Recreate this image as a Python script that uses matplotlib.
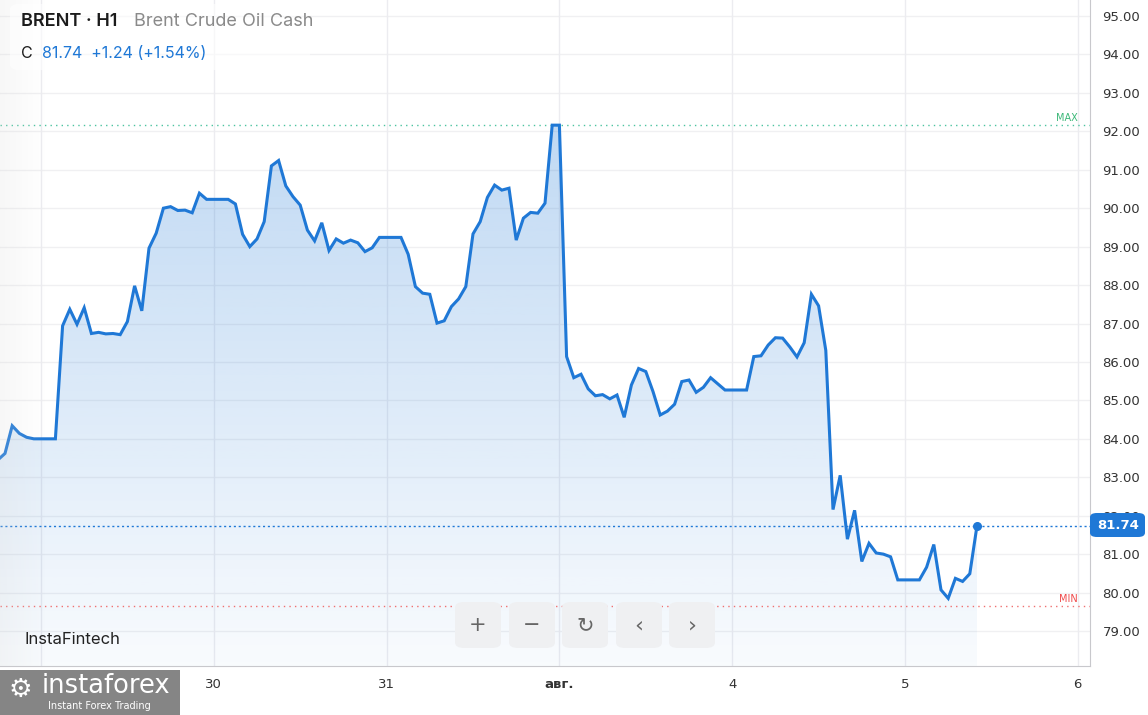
import numpy as np
import matplotlib.pyplot as plt
from matplotlib.patches import FancyBboxPatch, Rectangle

# hourly closes, first value is 6 hours before the "29" day boundary
start_hour = -6
closes = [
    83.45, 83.62, 84.34, 84.14, 84.04, 84.00,
    84.00, 84.00, 84.00, 86.94, 87.37, 86.98, 87.41, 86.74, 86.77, 86.73,
    86.74, 86.71, 87.05, 87.98, 87.33, 88.96, 89.35, 90.00, 90.04, 89.94,
    89.95, 89.88, 90.39, 90.23,
    90.23, 90.23, 90.23, 90.11, 89.32, 89.00, 89.20, 89.65, 91.10, 91.24,
    90.58, 90.30, 90.08, 89.43, 89.15, 89.62, 88.90, 89.20, 89.09, 89.17,
    89.10, 88.87, 88.97, 89.24,
    89.24, 89.24, 89.24, 88.80, 87.96, 87.79, 87.76, 87.01, 87.07, 87.44,
    87.64, 87.96, 89.33, 89.65, 90.28, 90.60, 90.47, 90.52, 89.17, 89.74,
    89.89, 89.87, 90.13, 92.16,
    92.16, 86.14, 85.59, 85.68, 85.30, 85.12, 85.15, 85.04, 85.14, 84.56,
    85.40, 85.83, 85.75, 85.23, 84.62, 84.72, 84.90, 85.49, 85.53, 85.21,
    85.34, 85.59, 85.43, 85.27,
    85.27, 85.27, 85.27, 86.14, 86.16, 86.44, 86.63, 86.62, 86.39, 86.13,
    86.50, 87.76, 87.46, 86.30, 82.16, 83.05, 81.39, 82.14, 80.81, 81.28,
    81.03, 81.00, 80.93, 80.33,
    80.33, 80.33, 80.33, 80.66, 81.25, 80.07, 79.85, 80.37, 80.29, 80.49,
    81.74,
]
day_labels = ['29', '30', '31', 'авг.', '4', '5', '6']
price_ticks = [79, 80, 81, 82, 83, 84, 85, 86, 87, 88, 89, 90, 91, 92, 93, 94, 95]
max_level = 92.16
min_level = 79.64
last_price = 81.74

W, H = 1148, 715
blue = '#1f78d6'

def fx(px):
    return px / W

def fy(py):
    return 1 - py / H

hours = np.arange(len(closes)) + start_hour
days = hours / 24.0
closes = np.array(closes)

fig = plt.figure(figsize=(W / 100, H / 100), dpi=100)
ax = fig.add_axes([0, fy(666), fx(1090), 1 - fy(666)])

x0, x1 = -41 / 7.2 / 24, (1090 - 41) / 7.2 / 24
y0, y1 = 78.09, 95.416
ax.set_xlim(x0, x1)
ax.set_ylim(y0, y1)

# grid
for p in price_ticks:
    ax.axhline(p, color='#f0f0f2', lw=1, zorder=0)
for d in range(len(day_labels)):
    ax.axvline(d, color='#ececf0', lw=1, zorder=0)

# gradient fill under the line
fill = ax.fill_between(days, closes, y0, color='none', lw=0)
grad = np.zeros((256, 1, 4))
grad[:, 0, 0] = 31 / 255
grad[:, 0, 1] = 120 / 255
grad[:, 0, 2] = 214 / 255
grad[:, 0, 3] = np.linspace(0.03, 0.28, 256)
img = ax.imshow(grad, extent=[days[0], days[-1], y0, max_level], origin='lower',
                aspect='auto', zorder=1)
img.set_clip_path(fill.get_paths()[0], transform=ax.transData)

ax.plot(days, closes, color=blue, lw=2.2, zorder=3, solid_joinstyle='miter')
ax.plot(days[-1], closes[-1], 'o', color=blue, ms=5.5, zorder=4)

# level lines
ax.axhline(max_level, color='#4cc3a0', lw=1, ls=(0, (1, 3)), zorder=2)
ax.axhline(min_level, color='#f07070', lw=1, ls=(0, (1, 3)), zorder=2)
ax.axhline(last_price, color=blue, lw=1, ls=(0, (1.5, 2)), zorder=2)
ax.text(x1 - 0.07, max_level + 0.06, 'MAX', color='#3cb878', fontsize=7, ha='right', va='bottom')
ax.text(x1 - 0.07, min_level + 0.06, 'MIN', color='#f04a4a', fontsize=7, ha='right', va='bottom')

# left shade
shade = np.zeros((1, 64, 4))
shade[0, :, :3] = 0.85
shade[0, :, 3] = np.linspace(0.2, 0.0, 64)
ax.imshow(shade, extent=[x0, x0 + 45 / 7.2 / 24, y0, y1], aspect='auto', zorder=5)
ax.set_xlim(x0, x1)
ax.set_ylim(y0, y1)

# axes
for s in ['top', 'left']:
    ax.spines[s].set_visible(False)
ax.spines['right'].set_color('#c8c8cc')
ax.spines['bottom'].set_color('#c8c8cc')
ax.yaxis.tick_right()
ax.set_yticks(price_ticks)
ax.set_yticklabels([f'{p:.2f}' for p in price_ticks])
ax.tick_params(axis='y', length=0, pad=9, labelsize=9.5, labelcolor='#333333')
ax.set_xticks(range(len(day_labels)))
ax.set_xticklabels(day_labels)
ax.tick_params(axis='x', length=0, pad=9, labelsize=9.5, labelcolor='#333333')
for lab in ax.get_xticklabels():
    if lab.get_text() == 'авг.':
        lab.set_fontweight('bold')

# last price badge
fig.patches.append(FancyBboxPatch((fx(1090), fy(537)), fx(1145) - fx(1090), fy(513) - fy(537),
                                  boxstyle='round,pad=0,rounding_size=0.006', transform=fig.transFigure,
                                  facecolor=blue, edgecolor='none', zorder=10))
fig.text(fx(1118), fy(525.5), f'{last_price:.2f}', color='white', fontsize=9.5, fontweight='bold',
         ha='center', va='center', zorder=11)

# header
fig.patches.append(FancyBboxPatch((fx(10), fy(70)), fx(300), fy(4) - fy(70),
                                  boxstyle='round,pad=0,rounding_size=0.008', transform=fig.transFigure,
                                  facecolor='white', edgecolor='none', alpha=0.6, zorder=6))
fig.text(fx(21), fy(22), 'BRENT · H1', fontsize=13, family='Inter', fontweight='semibold',
         color='#1b1b1b', va='center', zorder=7)
fig.text(fx(134), fy(22), 'Brent Crude Oil Cash', fontsize=13, family='Inter',
         color='#8a8a8a', va='center', zorder=7)
fig.text(fx(21), fy(54), 'C', fontsize=11.5, family='Inter', color='#1b1b1b', va='center', zorder=7)
fig.text(fx(42), fy(54), '81.74  +1.24 (+1.54%)', fontsize=11.5, family='Inter',
         color=blue, va='center', zorder=7)

# toolbar buttons
for cx, sym in zip([478, 532, 585, 639, 692], ['+', '−', '↻', '‹', '›']):
    fig.patches.append(FancyBboxPatch((fx(cx - 23), fy(648)), fx(46), fy(602) - fy(648),
                                      boxstyle='round,pad=0,rounding_size=0.008',
                                      transform=fig.transFigure, facecolor='#eff0f2',
                                      edgecolor='none', zorder=8))
    fig.text(fx(cx), fy(625), sym, fontsize=16 if sym in '‹›' else 15, color='#666666',
             ha='center', va='center', zorder=9)

fig.text(fx(24), fy(640), 'InstaFintech', fontsize=12, family='Inter', color='#222222',
         va='center', zorder=9)

# logo
fig.patches.append(Rectangle((0, 0), fx(180), fy(670), transform=fig.transFigure,
                             facecolor='#858585', edgecolor='none', zorder=12))
fig.text(fx(20), fy(690), '⚙', fontsize=19, color='white', ha='center', va='center', zorder=13)
fig.text(fx(42), fy(686), 'instaforex', fontsize=18.5, color='white', va='center', zorder=13)
fig.text(fx(48), fy(706), 'Instant Forex Trading', fontsize=7, color='white', va='center', zorder=13)

fig.savefig('out.png', dpi=100)
